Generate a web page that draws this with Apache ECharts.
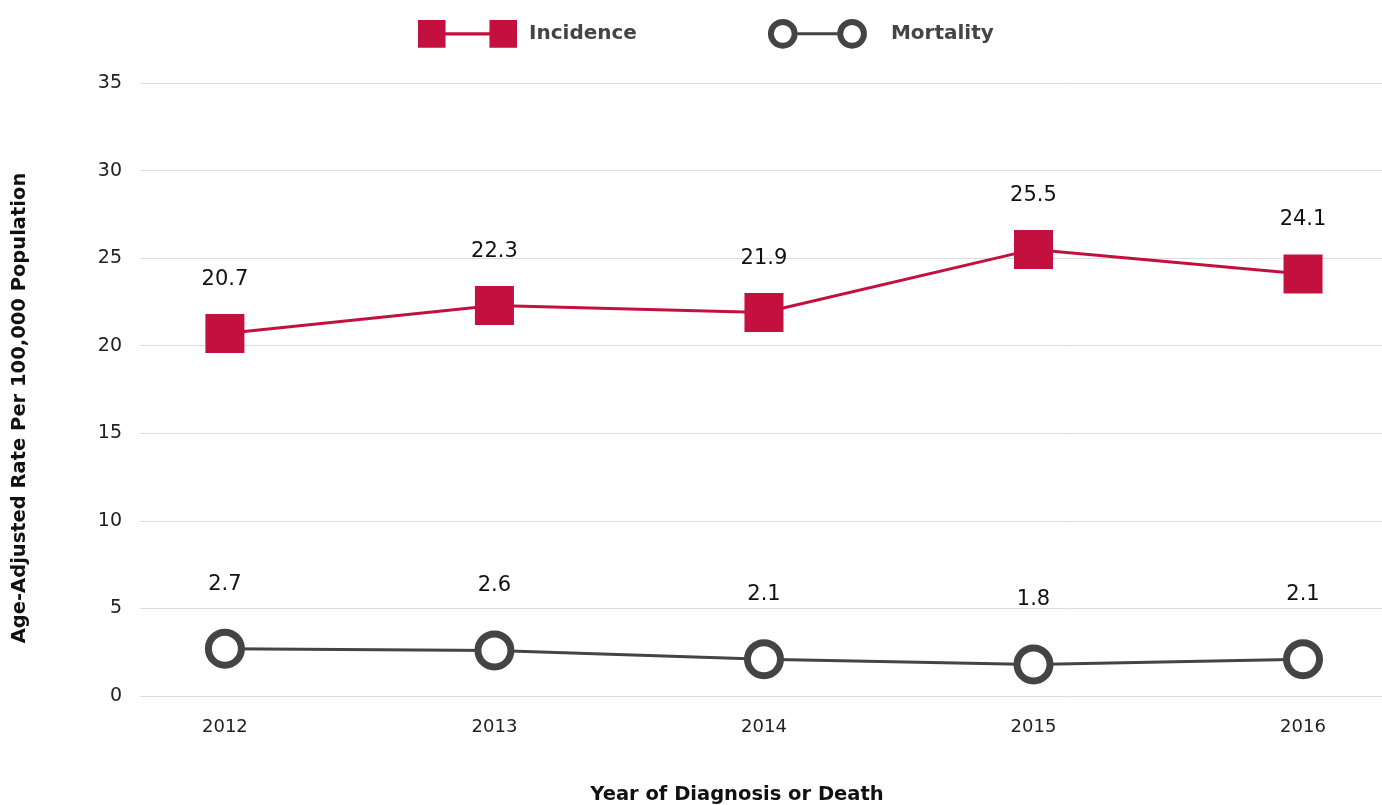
<!DOCTYPE html>
<html>
<head>
<meta charset="utf-8">
<title>Incidence and Mortality</title>
<script src="https://cdn.jsdelivr.net/npm/echarts@6/dist/echarts.min.js"></script>
<style>
  html, body { margin: 0; padding: 0; background: #fff; }
  #chart { width: 1382px; height: 805px; }
</style>
</head>
<body>
<div id="chart"></div>
<script>
// data
const years = [2012, 2013, 2014, 2015, 2016]
const incidence = [20.7, 22.3, 21.9, 25.5, 24.1]
const mortality = [2.7, 2.6, 2.1, 1.8, 2.1]
const yTicks = { min: 0, max: 35, interval: 5 }

const FONT = '"DejaVu Sans", sans-serif'
const RED = '#c4103f'
const DARK = '#444444'

// legend icons: marker - line - marker
const squareIcon = 'path://M0 1H27V28H0Z M27 13H70V16H27Z M70 1H97V28H70Z'
const ringIcon = 'path://M0 15A15 15 0 1 1 30 15A15 15 0 1 1 0 15Z M6 15A9 9 0 1 0 24 15A9 9 0 1 0 6 15Z' +
  'M30 13.5H70V16.5H30Z' +
  'M70 15A15 15 0 1 1 100 15A15 15 0 1 1 70 15Z M76 15A9 9 0 1 0 94 15A9 9 0 1 0 76 15Z'

const chart = echarts.init(document.getElementById('chart'))

const option = {
  backgroundColor: '#fff',
  animation: false,
  textStyle: { fontFamily: FONT },
  legend: {
    left: 413,
    top: 14,
    itemWidth: 99,
    itemHeight: 30,
    itemGap: 131,
    textStyle: { fontFamily: FONT, fontSize: 20, fontWeight: 'bold', color: DARK, padding: [0, 0, 0, 7] },
    data: [
      { name: 'Incidence', icon: squareIcon, itemStyle: { color: RED, borderColor: RED, borderWidth: 0 } },
      {
        name: 'Mortality',
        icon: ringIcon,
        itemStyle: { color: DARK, borderColor: DARK, borderWidth: 0 },
        textStyle: { padding: [0, 0, 0, 19] }
      }
    ]
  },
  grid: { left: 140, right: 0, top: 83, bottom: 109 },
  xAxis: {
    type: 'value',
    min: 2011.685,
    max: 2016.293,
    axisLine: { show: false },
    axisTick: { show: false },
    splitLine: { show: false },
    axisLabel: {
      customValues: years,
      formatter: v => String(v),
      fontSize: 18,
      color: '#222',
      margin: 22,
      fontFamily: FONT
    }
  },
  yAxis: {
    type: 'value',
    min: yTicks.min,
    max: yTicks.max,
    interval: yTicks.interval,
    axisLine: { show: false },
    axisTick: { show: false },
    splitLine: { lineStyle: { color: '#dcdcdc', width: 1 } },
    axisLabel: { fontSize: 19, color: '#222', margin: 18, fontFamily: FONT }
  },
  graphic: [
    {
      type: 'text',
      x: 20,
      y: 408,
      rotation: Math.PI / 2,
      style: {
        text: 'Age-Adjusted Rate Per 100,000 Population',
        font: 'bold 19.5px ' + FONT,
        fill: '#111',
        textAlign: 'center',
        textVerticalAlign: 'middle'
      }
    },
    {
      type: 'text',
      x: 737,
      y: 795,
      style: {
        text: 'Year of Diagnosis or Death',
        font: 'bold 19.5px ' + FONT,
        fill: '#111',
        textAlign: 'center',
        textVerticalAlign: 'middle'
      }
    }
  ],
  series: [
    {
      name: 'Incidence',
      type: 'line',
      data: years.map((y, i) => [y, incidence[i]]),
      symbol: 'rect',
      symbolSize: 39,
      lineStyle: { color: RED, width: 3 },
      itemStyle: { color: RED },
      label: {
        show: true,
        position: 'top',
        distance: 24,
        fontSize: 21,
        color: '#111',
        fontFamily: FONT,
        formatter: p => p.value[1].toFixed(1)
      }
    },
    {
      name: 'Mortality',
      type: 'line',
      data: years.map((y, i) => [y, mortality[i]]),
      symbol: 'circle',
      symbolSize: 33,
      lineStyle: { color: DARK, width: 3 },
      itemStyle: { color: '#fff', borderColor: DARK, borderWidth: 7 },
      label: {
        show: true,
        position: 'top',
        distance: 34,
        fontSize: 21,
        color: '#111',
        fontFamily: FONT,
        formatter: p => p.value[1].toFixed(1)
      }
    }
  ]
}

chart.setOption(option)
</script>
</body>
</html>
